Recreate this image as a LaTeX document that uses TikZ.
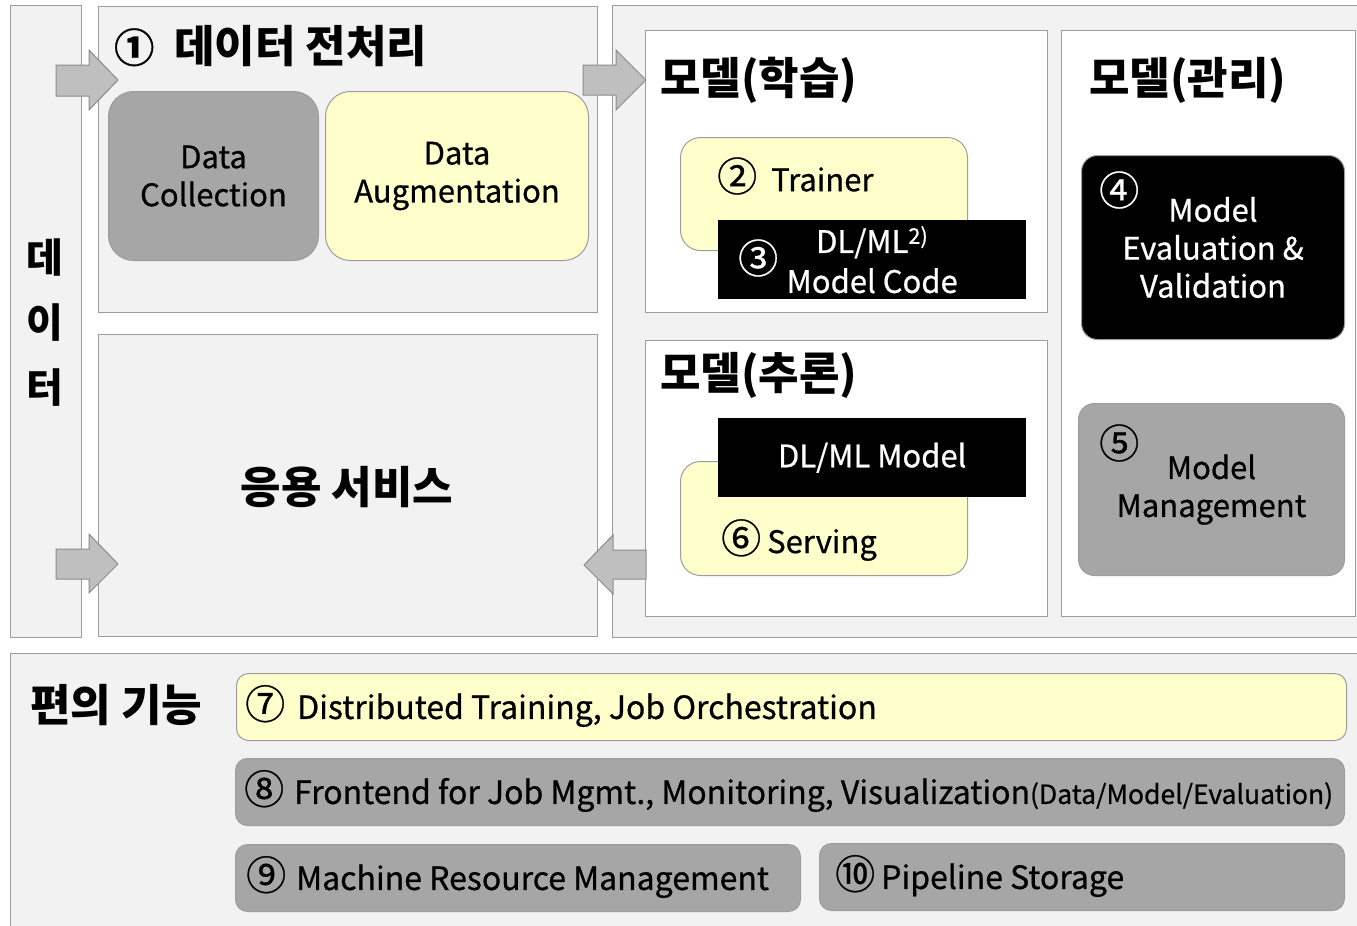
\documentclass[tikz,border=0pt]{standalone}
\usepackage{fontspec}
\setmainfont{Noto Sans CJK KR}
\newfontfamily\medfont[FakeBold=0.7]{Noto Sans CJK KR}
\definecolor{panelgray}{HTML}{F2F2F2}
\definecolor{edgegray}{HTML}{9C9C9C}
\definecolor{boxgray}{HTML}{A6A6A6}
\definecolor{paleyellow}{HTML}{FFFFCC}
\definecolor{arrowgray}{HTML}{BFBFBF}
\definecolor{arrowedge}{HTML}{8C8C8C}
\newcommand\fs[2]{\fontsize{#1}{#2}\selectfont}
\newcommand\cn[1]{{\medfont\fs{40}{40}#1}}
\begin{document}
\begin{tikzpicture}[x=1pt,y=-1pt,
  panel/.style={draw=edgegray, fill=panelgray, line width=1pt, inner sep=0pt, anchor=north west},
  whitebox/.style={draw=edgegray, fill=white, line width=1pt, inner sep=0pt, anchor=north west},
  rbox/.style={draw=edgegray, line width=1pt, rounded corners=22pt, inner sep=0pt, anchor=north west,
    align=center, font=\medfont\fs{31}{38}},
  blackbox/.style={fill=black, text=white, inner sep=0pt, anchor=north west, align=center, font=\medfont\fs{31}{40}},
  bar/.style={draw=edgegray, line width=1pt, rounded corners=12pt, inner sep=0pt, anchor=north west},
  head/.style={inner sep=0pt, font=\bfseries\fs{44}{52}},
  lab/.style={inner sep=0pt, anchor=west, font=\medfont\fs{31}{38}},
  barlab/.style={inner sep=0pt, anchor=west, font=\medfont\fs{32}{38}},
  blockarrow/.style={draw=arrowedge, fill=arrowgray, line width=1pt, line join=miter}]
\useasboundingbox (0,0) rectangle (1357,926);
\clip (0,0) rectangle (1357,926);
\fill[white] (0,0) rectangle (1357,926);

% containers
\node[panel, minimum width=71pt, minimum height=632pt] (datacol) at (10,5) {};
\node[panel, minimum width=499pt, minimum height=306pt] (prep) at (98,6) {};
\node[panel, minimum width=499pt, minimum height=302pt] (app) at (98,334) {};
\node[panel, minimum width=770pt, minimum height=632pt] (modelpanel) at (612,5) {};
\node[panel, minimum width=1370pt, minimum height=300pt] (utilpanel) at (10,653) {};
\node[whitebox, minimum width=402pt, minimum height=282pt] (learn) at (645,30) {};
\node[whitebox, minimum width=402pt, minimum height=276pt] (infer) at (645,340) {};
\node[whitebox, minimum width=294pt, minimum height=586pt] (manage) at (1061,30) {};

% headings
\node[head, anchor=center, align=center, font=\bfseries\fs{40}{65}] (datalabel) at (45,323) {데\\이\\터};
\node[head, anchor=west] (prephead) at (114,46) {\cn{①}\hspace{20pt}데이터 전처리};
\node[head, anchor=west] (learnhead) at (660,80) {모델(학습)};
\node[head, anchor=west] (managehead) at (1089,80) {모델(관리)};
\node[head, anchor=west] (inferhead) at (660,375) {모델(추론)};
\node[head, anchor=center] (applabel) at (347,487) {응용 서비스};
\node[head, anchor=west] (utilhead) at (30,705) {편의 기능};

% data preprocessing
\node[rbox, fill=boxgray, rounded corners=25pt, minimum width=210pt, minimum height=169pt] (collect) at (108,91) {Data\\Collection};
\node[rbox, fill=paleyellow, rounded corners=25pt, minimum width=263pt, minimum height=169pt] (augment) at (325,91) {Data\\Augmentation};

% training
\node[rbox, fill=paleyellow, rounded corners=20pt, minimum width=287pt, minimum height=113pt] (trainer) at (680,137) {};
\node[lab] (trainerlabel) at (717,176) {\cn{②}\hspace{14pt}Trainer};
\node[blackbox, minimum width=308pt, minimum height=79pt] (code) at (718,220) {DL/ML\textsuperscript{2)}\\Model Code};
\node[lab, text=white] (num3) at (738,258) {\cn{③}};

% management
\node[rbox, fill=black, text=white, rounded corners=16pt, minimum width=263pt, minimum height=184pt] (eval) at (1081,155) {Model\\Evaluation \&\\Validation};
\node[lab, text=white] (num4) at (1099,190) {\cn{④}};
\node[rbox, fill=boxgray, rounded corners=16pt, minimum width=266pt, minimum height=172pt] (mgmt) at (1078,403) {Model\\Management};
\node[lab] (num5) at (1099,443) {\cn{⑤}};

% inference
\node[rbox, fill=paleyellow, rounded corners=20pt, minimum width=287pt, minimum height=114pt] (serving) at (680,461) {};
\node[blackbox, minimum width=308pt, minimum height=79pt] (model) at (718,418) {DL/ML Model};
\node[lab] (servinglabel) at (721,540) {\cn{⑥}\hspace{6pt}Serving};

% utility bars
\node[bar, fill=paleyellow, minimum width=1110pt, minimum height=67pt] (bar7) at (236,673) {};
\node[bar, fill=boxgray, minimum width=1109pt, minimum height=67pt] (bar8) at (235,758) {};
\node[bar, fill=boxgray, minimum width=565pt, minimum height=67pt] (bar9) at (235,844) {};
\node[bar, fill=boxgray, minimum width=525pt, minimum height=67pt] (bar10) at (819,843) {};
\node[barlab] (bar7label) at ([xshift=9pt,yshift=1pt]bar7.west) {\cn{⑦}\hspace{12pt}Distributed Training, Job Orchestration};
\node[barlab] (bar8label) at ([xshift=9pt,yshift=1pt]bar8.west) {\cn{⑧}\hspace{10pt}Frontend for Job Mgmt., Monitoring, Visualization{\fs{26.5}{26}(Data/Model/Evaluation)}};
\node[barlab] (bar9label) at ([xshift=11pt,yshift=1pt]bar9.west) {\cn{⑨}\hspace{10pt}Machine Resource Management};
\node[barlab] (bar10label) at ([xshift=16pt,yshift=1pt]bar10.west) {\cn{⑩}\hspace{6pt}Pipeline Storage};

% flow arrows
\draw[blockarrow] (56,65) -- (89,65) -- (89,50) -- (118,80) -- (89,110) -- (89,96) -- (56,96) -- cycle;
\draw[blockarrow] (583,65) -- (616,65) -- (616,50) -- (646,80) -- (616,110) -- (616,95) -- (583,95) -- cycle;
\draw[blockarrow] (56,549) -- (89,549) -- (89,534) -- (118,564) -- (89,593) -- (89,579) -- (56,579) -- cycle;
\draw[blockarrow] (646,550) -- (613,550) -- (613,535) -- (584,565) -- (613,594) -- (613,579) -- (646,579) -- cycle;
\end{tikzpicture}
\end{document}
